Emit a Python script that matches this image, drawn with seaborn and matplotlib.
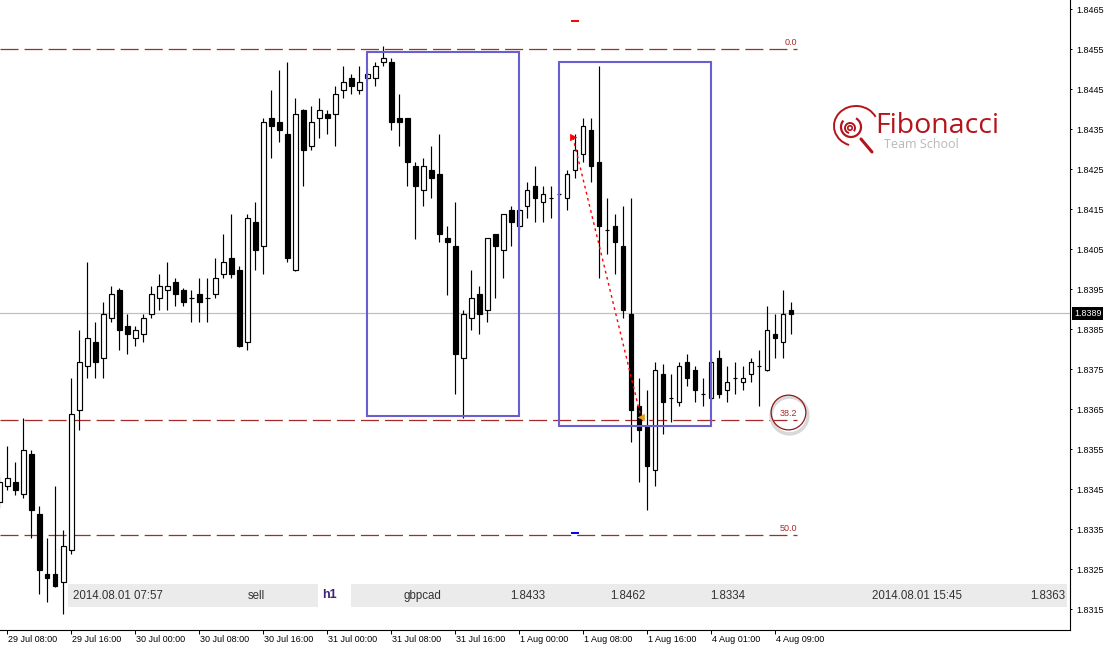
import matplotlib
matplotlib.use("Agg")
import matplotlib.pyplot as plt
import matplotlib.transforms as mtransforms
from matplotlib.patches import Rectangle, Arc, Circle
from matplotlib.lines import Line2D
import seaborn as sns
import pandas as pd

# ---------------- data (GBPCAD, H1) ----------------
bar_index = list(range(-1, 99))
opens = [1.83417, 1.83458, 1.83467, 1.83438, 1.83537, 1.83387, 1.83238, 1.83238, 1.83218, 1.83298,
         1.83648, 1.83758, 1.83818, 1.83778, 1.83878, 1.83948, 1.83858, 1.83828, 1.83838, 1.83888,
         1.83928, 1.83948, 1.83968, 1.83948, 1.83928, 1.83938, 1.83928, 1.83938, 1.83988, 1.84028,
         1.83998, 1.83818, 1.84118, 1.84057, 1.84378, 1.84368, 1.84338, 1.83997, 1.84398, 1.84307,
         1.84378, 1.84388, 1.84388, 1.84448, 1.84478, 1.84448, 1.84478, 1.84478, 1.84518, 1.84518,
         1.84378, 1.84378, 1.84258, 1.84198, 1.84248, 1.84238, 1.84078, 1.84058, 1.83777, 1.83877,
         1.83938, 1.83897, 1.84088, 1.84047, 1.84148, 1.84107, 1.84157, 1.84208, 1.84167, 1.84178,
         1.84188, 1.84177, 1.84247, 1.84287, 1.84348, 1.84268, 1.84098, 1.84108, 1.84058, 1.83888,
         1.83658, 1.83608, 1.83497, 1.83738, 1.83678, 1.83667, 1.83768, 1.83748, 1.83688, 1.83677,
         1.83778, 1.83697, 1.83728, 1.83718, 1.83738, 1.83758, 1.83748, 1.83838, 1.83818, 1.83898]
highs = [1.83483, 1.83558, 1.83518, 1.83628, 1.83547, 1.83407, 1.83329, 1.83458, 1.83348, 1.83728,
         1.83848, 1.84018, 1.83868, 1.83918, 1.83958, 1.83953, 1.83888, 1.83858, 1.83888, 1.83958,
         1.83988, 1.84018, 1.83978, 1.83953, 1.83948, 1.83978, 1.83978, 1.84028, 1.84088, 1.84138,
         1.84008, 1.84138, 1.84168, 1.84378, 1.84448, 1.84498, 1.84518, 1.84428, 1.84400, 1.84408,
         1.84428, 1.84398, 1.84458, 1.84508, 1.84488, 1.84508, 1.84493, 1.84518, 1.84558, 1.84528,
         1.84438, 1.84379, 1.84268, 1.84278, 1.84308, 1.84338, 1.84108, 1.84168, 1.83897, 1.83998,
         1.83958, 1.84079, 1.84089, 1.84139, 1.84158, 1.84153, 1.84218, 1.84258, 1.84208, 1.84208,
         1.84192, 1.84248, 1.84338, 1.84378, 1.84378, 1.84508, 1.84178, 1.84138, 1.84158, 1.84178,
         1.83728, 1.83698, 1.83768, 1.83763, 1.83738, 1.83768, 1.83788, 1.83758, 1.83728, 1.83778,
         1.83798, 1.83758, 1.83768, 1.83758, 1.83778, 1.83798, 1.83908, 1.83888, 1.83948, 1.83918]
lows = [1.83403, 1.83447, 1.83435, 1.83428, 1.83328, 1.83188, 1.83167, 1.83205, 1.83138, 1.83288,
        1.83597, 1.83728, 1.83728, 1.83728, 1.83868, 1.83798, 1.83788, 1.83807, 1.83818, 1.83878,
        1.83898, 1.83898, 1.83908, 1.83908, 1.83867, 1.83867, 1.83867, 1.83927, 1.83977, 1.83977,
        1.83805, 1.83797, 1.83997, 1.83987, 1.84277, 1.84317, 1.84017, 1.83995, 1.84207, 1.84297,
        1.84327, 1.84337, 1.84307, 1.84428, 1.84438, 1.84438, 1.84473, 1.84457, 1.84507, 1.84347,
        1.84307, 1.84207, 1.84076, 1.84157, 1.84177, 1.84067, 1.83936, 1.83687, 1.83628, 1.83847,
        1.83837, 1.83867, 1.83927, 1.83977, 1.84057, 1.84101, 1.84127, 1.84117, 1.84117, 1.84127,
        1.84184, 1.84147, 1.84227, 1.84267, 1.84217, 1.83977, 1.84037, 1.83987, 1.83877, 1.83567,
        1.83467, 1.83397, 1.83457, 1.83587, 1.83617, 1.83657, 1.83707, 1.83667, 1.83657, 1.83673,
        1.83677, 1.83667, 1.83687, 1.83697, 1.83717, 1.83657, 1.83746, 1.83778, 1.83778, 1.83838]
closes = [1.83467, 1.83477, 1.83447, 1.83547, 1.83397, 1.83247, 1.83227, 1.83207, 1.83308, 1.83638,
          1.83768, 1.83828, 1.83768, 1.83888, 1.83938, 1.83848, 1.83838, 1.83848, 1.83878, 1.83938,
          1.83958, 1.83958, 1.83938, 1.83918, 1.83928, 1.83917, 1.83928, 1.83978, 1.84018, 1.83988,
          1.83807, 1.84128, 1.84047, 1.84368, 1.84357, 1.84347, 1.84027, 1.84388, 1.84297, 1.84368,
          1.84398, 1.84378, 1.84438, 1.84468, 1.84458, 1.84468, 1.84488, 1.84508, 1.84528, 1.84367,
          1.84367, 1.84267, 1.84207, 1.84258, 1.84227, 1.84087, 1.84067, 1.83787, 1.83888, 1.83928,
          1.83887, 1.84078, 1.84057, 1.84138, 1.84117, 1.84148, 1.84198, 1.84177, 1.84188, 1.84178,
          1.84188, 1.84238, 1.84298, 1.84358, 1.84257, 1.84107, 1.84098, 1.84067, 1.83897, 1.83647,
          1.83597, 1.83507, 1.83748, 1.83667, 1.83678, 1.83758, 1.83727, 1.83697, 1.83688, 1.83768,
          1.83687, 1.83718, 1.83728, 1.83728, 1.83768, 1.83758, 1.83848, 1.83828, 1.83888, 1.83888]

xtick_pos = [0, 8, 16, 24, 32, 40, 48, 56, 64, 72, 80, 88, 96]
xtick_labels = ["29 Jul 08:00", "29 Jul 16:00", "30 Jul 00:00", "30 Jul 08:00", "30 Jul 16:00",
                "31 Jul 00:00", "31 Jul 08:00", "31 Jul 16:00", "1 Aug 00:00", "1 Aug 08:00",
                "1 Aug 16:00", "4 Aug 01:00", "4 Aug 09:00"]
ytick_vals = [1.8315, 1.8325, 1.8335, 1.8345, 1.8355, 1.8365, 1.8375, 1.8385,
              1.8395, 1.8405, 1.8415, 1.8425, 1.8435, 1.8445, 1.8455, 1.8465]

current_price = 1.8389
fib_labels = ["0.0", "38.2", "50.0"]
fib_prices = [1.8455, 1.83622, 1.83335]
fib_end = 98.7

box_x0 = [44.96, 68.96]
box_x1 = [63.96, 87.96]
box_top = [1.84543, 1.84518]
box_bottom = [1.83632, 1.83608]

trade_x = [70.7, 79.2]
trade_price = [1.8433, 1.8363]
level_x = 71.0
tp_sl_prices = [1.8462, 1.8334]

info_left = [("2014.08.01 07:57", 73, "left"), ("sell", 256, "center")]
info_right = [("gbpcad", 422, "center"), ("1.8433", 545, "right"), ("1.8462", 645, "right"),
              ("1.8334", 745, "right"), ("2014.08.01 15:45", 962, "right"), ("1.8363", 1065, "right")]

df = pd.DataFrame({"i": bar_index, "open": opens, "high": highs, "low": lows, "close": closes})

# ---------------- style ----------------
sns.set_theme(style="white")
plt.rcParams["font.family"] = ["Liberation Sans", "DejaVu Sans"]
plt.rcParams["lines.scale_dashes"] = False

W, H = 1112, 648
fig = plt.figure(figsize=(W / 100, H / 100), dpi=100)
fig.patch.set_facecolor("white")
ax = fig.add_axes([0, (H - 630) / H, 1070 / W, 630 / H])
ax.set_facecolor("white")

ax.set_xlim(-7.3 / 8, (1070 - 7.3) / 8)
ax.set_ylim(1.83098, 1.84673)

# current price line
ax.axhline(current_price, color="#c0c0c0", lw=0.9, zorder=1)

# fibonacci levels
fib_col = "#a52a2a"
for lab, p in zip(fib_labels, fib_prices):
    ax.plot([ax.get_xlim()[0], fib_end], [p, p], color=fib_col, lw=0.9,
            ls=(0, (13, 4.3)), zorder=1.5)
    ax.annotate(lab, xy=(fib_end, p), xytext=(0, 2), textcoords="offset pixels",
                ha="right", va="bottom", fontsize=6.5, color=fib_col)

# circle around 38.2
ax.plot([97.7], [1.83636], marker="o", ms=26.5, mfc="none", mec="#d8d8d8", mew=2.5, zorder=2)
ax.plot([97.6], [1.83642], marker="o", ms=25, mfc="none", mec="#8b1a1a", mew=0.9, zorder=2.1)

# candles
wick_col = "black"
ax.vlines(df["i"], df["low"], df["high"], color=wick_col, lw=0.85, zorder=3)
bull = df[df["close"] >= df["open"]]
bear = df[df["close"] < df["open"]]
ax.bar(bull["i"], bull["close"] - bull["open"], bottom=bull["open"], width=0.55,
       color="white", edgecolor="black", linewidth=0.85, zorder=4)
ax.bar(bear["i"], bear["close"] - bear["open"], bottom=bear["open"], width=0.55,
       color="black", edgecolor="black", linewidth=0.85, zorder=4)

# analysis boxes
for x0, x1, t, b in zip(box_x0, box_x1, box_top, box_bottom):
    ax.add_patch(Rectangle((x0, b), x1 - x0, t - b, fill=False, ec="#6a5fd0", lw=1.5, zorder=5))

# trade line and markers
ax.plot(trade_x, trade_price, color="red", lw=1.0, ls=(0, (2, 2.5)), zorder=6)
sns.scatterplot(x=[trade_x[0]], y=[trade_price[0]], marker=">", s=22, color="red",
                edgecolor="red", ax=ax, zorder=7, legend=False)
sns.scatterplot(x=[trade_x[1]], y=[trade_price[1]], marker="<", s=22, color="#e0a020",
                edgecolor="#e0a020", ax=ax, zorder=7, legend=False)
ax.plot([level_x], [tp_sl_prices[0]], marker="_", ms=6, mew=1.4, color="red", zorder=6)
ax.plot([level_x], [tp_sl_prices[1]], marker="_", ms=6, mew=1.4, color="blue", zorder=6)

# axes styling
for s in ["left", "top"]:
    ax.spines[s].set_visible(False)
for s in ["right", "bottom"]:
    ax.spines[s].set_visible(True)
    ax.spines[s].set_color("black")
    ax.spines[s].set_linewidth(0.8)
ax.yaxis.tick_right()
ax.set_yticks(ytick_vals)
ax.set_yticklabels([f"{v:.4f}" for v in ytick_vals])
ax.set_xticks(xtick_pos)
ax.set_xticklabels(xtick_labels)
ax.tick_params(axis="y", which="both", right=True, left=False, direction="out", length=1.6,
               width=0.7, pad=2.6, labelsize=6.5, colors="black")
ax.tick_params(axis="x", which="both", bottom=True, direction="out", length=3, width=0.7,
               pad=0.8, labelsize=6.5, colors="black")
offset = mtransforms.ScaledTranslation(0.5 / 100, 0, fig.dpi_scale_trans)
for lbl in ax.get_xticklabels():
    lbl.set_horizontalalignment("left")
    lbl.set_transform(lbl.get_transform() + offset)
ax.grid(False)

# current price label on the price scale
ax.annotate(f"{current_price:.4f}", xy=(1, current_price), xycoords=("axes fraction", "data"),
            xytext=(4, 0), textcoords="offset pixels", ha="left", va="center", fontsize=6.5,
            color="white", bbox=dict(boxstyle="square,pad=0.2", fc="black", ec="none"),
            annotation_clip=False, zorder=10)

# ---------------- info bar ----------------
def fx(x):
    return x / W


def fy(y):
    return 1 - y / H


bar_col = "#ebebeb"
fig.add_artist(Rectangle((fx(68), fy(607)), (318 - 68) / W, 23 / H, transform=fig.transFigure,
                         fc=bar_col, ec="none", zorder=3))
fig.add_artist(Rectangle((fx(351), fy(607)), (1067 - 351) / W, 23 / H, transform=fig.transFigure,
                         fc=bar_col, ec="none", zorder=3))
for txt, x, ha in info_left + info_right:
    fig.text(fx(x), fy(596), txt, ha=ha, va="center", fontsize=8.3, color="#333333", zorder=4)
fig.text(fx(322), fy(595), "h1", ha="left", va="center", fontsize=9, color="#3e1f7a",
         fontweight="bold", zorder=4)

# ---------------- logo ----------------
logo_col = "#b3151c"
ident = mtransforms.IdentityTransform()
cx, cy = 850, H - 128
fig.add_artist(Circle((cx, cy), 2.2, transform=ident, fc="none", ec=logo_col, lw=1.2))
fig.add_artist(Arc((cx, cy), 10, 10, theta1=-40, theta2=260, transform=ident, ec=logo_col, lw=1.4))
fig.add_artist(Arc((cx + 1, cy + 1), 20, 20, theta1=140, theta2=420, transform=ident, ec=logo_col, lw=1.6))
fig.add_artist(Arc((cx + 6, cy + 2), 44, 40, theta1=25, theta2=250, transform=ident, ec=logo_col, lw=1.4))
fig.add_artist(Line2D([861, 872], [H - 139, H - 152], transform=ident, color=logo_col, lw=2.2,
                      solid_capstyle="round"))
fig.text(fx(875), fy(126), "Fibonacci", ha="left", va="center", fontsize=20.5, color=logo_col,
         family=["Open Sans", "DejaVu Sans"])
fig.text(fx(884), fy(145), "Team School", ha="left", va="center", fontsize=9.0, color="#b8b8b8",
         family=["Open Sans", "DejaVu Sans"])

fig.savefig("out.png", dpi=100, facecolor="white")
